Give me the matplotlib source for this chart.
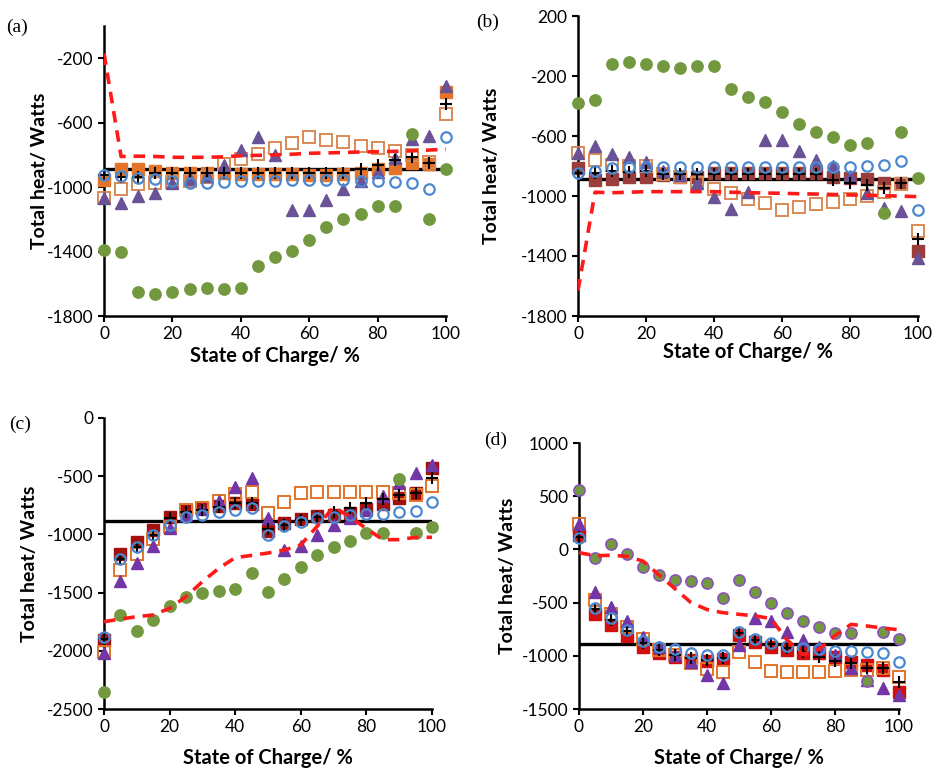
"""
Total heat vs state of charge, four panels (a)-(d).
Values read off the reference figure.
"""

import matplotlib
matplotlib.use("Agg")
import matplotlib.pyplot as plt

FONT = "Lato"
plt.rcParams.update(
    {
        "font.family": [FONT, "DejaVu Sans"],
        "axes.unicode_minus": False,
        "axes.linewidth": 1.8,
        "xtick.major.width": 1.5,
        "ytick.major.width": 1.5,
        "xtick.major.size": 4.5,
        "ytick.major.size": 4.5,
        "xtick.labelsize": 12.5,
        "ytick.labelsize": 12.5,
    }
)

# --- shared x positions (state of charge, %) ---
SOC = [0, 5, 10, 15, 20, 25, 30, 35, 40, 45, 50, 55, 60, 65, 70, 75, 80, 85, 90, 95, 100]
BASELINE_W = -887

# --- panel (a) ---
A_GREEN = [-1390, -1405, -1650, -1665, -1650, -1635, -1625, -1635, -1628, -1490, -1435,
           -1395, -1330, -1250, -1195, -1165, -1115, -1120, -670, -1200, -890]
A_PURPLE = [-1065, -1100, -1055, -1035, -975, -950, -930, -860, -770, -690, -800,
            -1145, -1145, -1080, -1010, -965, -905, -820, -700, -685, -370]
A_OPEN = [-1065, -1012, -983, -977, -967, -960, -940, -857, -824, -797, -760,
          -729, -688, -708, -723, -746, -760, -777, -801, -847, -547]
A_FILLED = [-956, -885, -887, -900, -915, -915, -910, -915, -920, -920, -920,
            -920, -925, -925, -920, -912, -890, -884, -849, -857, -408]
A_PLUS = [-925, -936, -940, -915, -915, -912, -910, -910, -910, -910, -910,
          -910, -910, -910, -910, -886, -863, -832, -816, -851, -485]
A_BLUE = [-925, -930, -942, -952, -963, -973, -977, -967, -962, -960, -960,
          -958, -958, -958, -958, -960, -962, -967, -973, -1012, -688]
A_DASH = [-170, -810, -808, -810, -815, -815, -815, -812, -805, -803, -800,
          -796, -790, -788, -785, -782, -780, -778, -775, -770, -765]

# --- panel (b) ---
B_GREEN = [-382, -360, -122, -107, -120, -131, -145, -133, -133, -289, -338,
           -373, -442, -520, -575, -609, -662, -649, -1111, -575, -882]
B_PURPLE = [-711, -667, -722, -742, -771, -830, -860, -913, -1004, -1087, -971,
            -627, -627, -698, -760, -800, -864, -982, -1082, -1100, -1416]
B_OPEN = [-711, -760, -793, -800, -800, -853, -873, -915, -955, -982, -1020,
          -1049, -1093, -1071, -1053, -1038, -1020, -998, -975, -922, -1233]
B_FILLED = [-815, -893, -889, -875, -871, -860, -870, -875, -848, -848, -848,
            -848, -848, -848, -848, -875, -880, -889, -915, -915, -1364]
B_PLUS = [-844, -844, -831, -840, -835, -850, -853, -853, -853, -853, -853,
          -853, -853, -853, -853, -893, -911, -927, -949, -915, -1289]
B_BLUE = [-844, -835, -815, -808, -805, -805, -805, -808, -808, -808, -808,
          -808, -808, -808, -808, -808, -805, -800, -793, -767, -1093]
B_DASH = [-1630, -975, -978, -975, -971, -971, -971, -971, -971, -975, -978,
          -980, -982, -985, -987, -990, -993, -995, -998, -1001, -1004]

# --- panel (c) ---
C_GREEN = [-2351, -1692, -1830, -1735, -1615, -1540, -1500, -1484, -1469, -1329, -1498,
           -1386, -1283, -1177, -1105, -1057, -991, -991, -521, -991, -934]
C_PURPLE = [-2022, -1400, -1243, -1100, -948, -833, -782, -710, -590, -518, -862,
            -1134, -1100, -1005, -919, -862, -790, -670, -556, -470, -404]
C_OPEN = [-2007, -1306, -1168, -1042, -939, -790, -776, -713, -653, -633, -819,
          -719, -641, -633, -633, -633, -633, -640, -647, -661, -584]
C_FILLED = [-1907, -1168, -1063, -962, -853, -790, -776, -756, -733, -739, -968,
            -905, -871, -842, -833, -819, -785, -739, -690, -641, -432]
C_PLUS = [-1900, -1214, -1105, -1005, -862, -805, -790, -762, -727, -727, -956,
          -919, -880, -850, -805, -776, -733, -699, -661, -641, -518]
C_BLUE = [-1882, -1214, -1105, -1005, -919, -853, -833, -805, -790, -776, -1005,
          -928, -891, -862, -848, -833, -825, -825, -805, -796, -719]
C_DASH = [-1750, -1727, -1707, -1692, -1635, -1535, -1406, -1291, -1200, -1180, -1160,
          -1134, -1090, -930, -765, -850, -950, -1045, -1045, -1025, -1025]

# --- panel (d) ---
D_GREEN = [558, -84, 48, -46, -162, -241, -288, -294, -313, -454, -288,
           -397, -501, -595, -673, -726, -789, -789, -1237, -780, -845]
D_PURPLE = [239, -397, -544, -673, -823, -914, -992, -1055, -1180, -1253, -898,
            -648, -673, -773, -851, -914, -992, -1117, -1227, -1305, -1368]
D_OPEN = [236, -475, -607, -726, -840, -945, -992, -1070, -1127, -1149, -961,
          -1055, -1140, -1149, -1149, -1149, -1140, -1133, -1133, -1117, -1196]
D_FILLED = [135, -604, -711, -814, -914, -976, -1008, -1039, -1045, -1033, -804,
            -867, -914, -945, -970, -976, -1008, -1055, -1086, -1133, -1337]
D_PLUS = [120, -563, -664, -764, -883, -945, -992, -1023, -1039, -1023, -789,
          -851, -889, -930, -961, -1014, -1045, -1070, -1117, -1117, -1243]
D_BLUE = [104, -553, -648, -757, -858, -914, -939, -970, -992, -992, -773,
          -845, -877, -908, -930, -939, -952, -952, -961, -970, -1055]
D_DASH = [-30, -60, -55, -65, -110, -240, -370, -500, -565, -595, -610,
          -625, -650, -850, -990, -940, -810, -705, -720, -740, -755]

# --- colours ---
GREEN = "#72993f"
PURPLE_A = "#6a5297"
PURPLE = "#7236a6"
ORANGE = "#e3742a"
ORANGE_A = "#d98a56"
BLUE = "#4a88cf"
RED_DASH = "#ff1a1a"

W, H = 936, 782


def px_box(left, right, top, bottom):
    """axes rectangle from pixel edges"""
    return [left / W, 1 - bottom / H, (right - left) / W, (bottom - top) / H]


def draw_panel(ax, series, filled_color, open_color, purple_color, green_edge):
    green, purple, open_sq, filled, plus, blue, dash = series
    ax.axhline(BASELINE_W, color="black", linewidth=2.4, zorder=2)
    common = dict(linestyle="none", clip_on=False)
    ax.plot(SOC, filled, marker="s", markersize=8, color=filled_color,
            markeredgecolor=filled_color, zorder=3, **common)
    ax.plot(SOC, open_sq, marker="s", markersize=8, markerfacecolor="none",
            markeredgecolor=open_color, markeredgewidth=1.4, zorder=4, **common)
    ax.plot(SOC, purple, marker="^", markersize=8.5, color=purple_color,
            markeredgecolor=purple_color, zorder=5, **common)
    ax.plot(SOC, plus, marker="+", markersize=8, markeredgecolor="black",
            markeredgewidth=1.5, zorder=6, **common)
    ax.plot(SOC, blue, marker="o", markersize=7.5, markerfacecolor="none",
            markeredgecolor=BLUE, markeredgewidth=1.6, zorder=7, **common)
    ax.plot(SOC, green, marker="o", markersize=8, color=GREEN,
            markeredgecolor=green_edge, markeredgewidth=1.2, zorder=8, **common)
    ax.plot(SOC, dash, color=RED_DASH, linewidth=2.6, dashes=(3.2, 2.2), zorder=9)

    ax.set_xlim(0, 100)
    ax.set_xticks([0, 20, 40, 60, 80, 100])
    for spine in ("top", "right"):
        ax.spines[spine].set_visible(False)
    ax.tick_params(direction="out", pad=3, colors="black")
    ax.set_facecolor("none")


fig = plt.figure(figsize=(W / 100, H / 100), dpi=100)

panels = [
    # box, series, ylim, yticks, filled colour, open colour, purple, green edge, label pos, xlabel y, ylabel x
    (px_box(104, 446, 26, 316), (A_GREEN, A_PURPLE, A_OPEN, A_FILLED, A_PLUS, A_BLUE, A_DASH),
     (-1800, 0), [-1800, -1400, -1000, -600, -200], ORANGE, ORANGE_A, PURPLE_A, GREEN,
     "(a)", (17, 27), 356, 40),
    (px_box(578, 918, 16, 316), (B_GREEN, B_PURPLE, B_OPEN, B_FILLED, B_PLUS, B_BLUE, B_DASH),
     (-1800, 200), [-1800, -1400, -1000, -600, -200, 200], "#9b3d3a", ORANGE_A, PURPLE_A, GREEN,
     "(b)", (488, 22), 352, 492),
    (px_box(104, 432, 418, 709), (C_GREEN, C_PURPLE, C_OPEN, C_FILLED, C_PLUS, C_BLUE, C_DASH),
     (-2500, 0), [-2500, -2000, -1500, -1000, -500, 0], "#a3110f", ORANGE, PURPLE, GREEN,
     "(c)", (20, 424), 758, 30),
    (px_box(579, 899, 443, 709), (D_GREEN, D_PURPLE, D_OPEN, D_FILLED, D_PLUS, D_BLUE, D_DASH),
     (-1500, 1000), [-1500, -1000, -500, 0, 500, 1000], "#d10f0f", ORANGE, PURPLE, "#8a55b5",
     "(d)", (496, 440), 758, 508),
]

for box, series, ylim, yticks, fcol, ocol, pcol, gedge, label, lpos, xl_py, yl_px in panels:
    ax = fig.add_axes(box)
    draw_panel(ax, series, fcol, ocol, pcol, gedge)
    ax.set_ylim(*ylim)
    ax.set_yticks(yticks)
    ax.set_xlabel("State of Charge/ %", fontsize=14.5, fontweight="bold", va="center")
    ax.set_ylabel("Total heat/ Watts", fontsize=14, fontweight="bold", va="center")
    # label positions given in figure pixels, converted to axes fractions
    left_px = box[0] * W
    bottom_px = (1 - box[1]) * H
    ax.xaxis.set_label_coords(0.5, -(xl_py - bottom_px) / (box[3] * H))
    ax.yaxis.set_label_coords((yl_px - left_px) / (box[2] * W), 0.5)
    fig.text(lpos[0] / W, 1 - lpos[1] / H, label, fontsize=14,
             family="Liberation Serif", ha="center", va="center")

fig.savefig("out.png", dpi=100, facecolor="white")
